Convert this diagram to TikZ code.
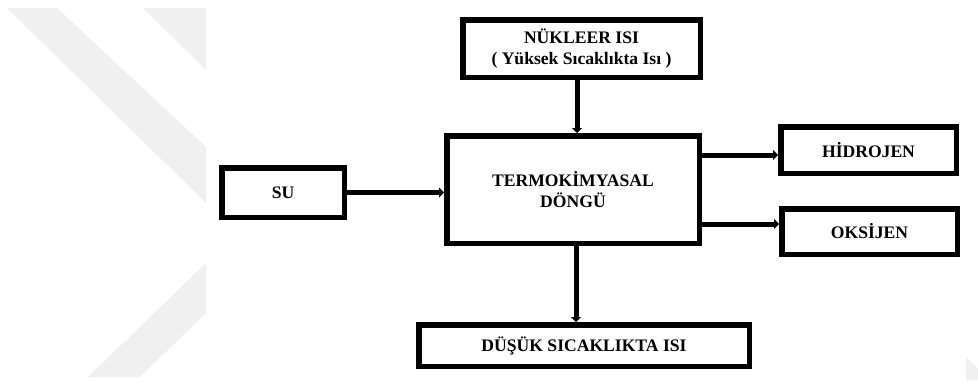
\documentclass[tikz,border=0pt]{standalone}
\usepackage{fontspec}
\setmainfont{Liberation Serif}
\usetikzlibrary{arrows.meta}
\begin{document}
\begin{tikzpicture}[x=1pt,y=-1pt,
  box/.style={draw=black, line width=5.5pt, fill=white, align=center, inner sep=0pt,
    font=\fontsize{17.6}{21}\selectfont\bfseries},
  arr/.style={draw=black, line width=5pt, -{Triangle[length=5pt,width=10pt]}},
  wm/.style={fill=black!6, draw=none}]
\useasboundingbox (0,0) rectangle (978,383);
% watermark
\fill[wm] (7,8) -- (57,8) -- (206,147) -- (206,203) -- cycle;
\fill[wm] (143,8) -- (206,8) -- (206,70) -- cycle;
\fill[wm] (206,263) -- (88,377) -- (140,377) -- (206,313) -- cycle;
\fill[wm] (966,357) -- (978,369) -- (978,380) -- (966,380) -- cycle;
% boxes
\node[box, minimum width=237.5pt, minimum height=57.5pt] (nuk) at (581.5,48.5)
  {NÜKLEER ISI\\( Yüksek Sıcaklıkta Isı )};
\node[box, minimum width=252.5pt, minimum height=107.5pt] (termo) at (573,189.5)
  {TERMOKİMYASAL\\DÖNGÜ};
\node[box, minimum width=122.5pt, minimum height=49.5pt] (su) at (283,192.5) {SU};
\node[box, minimum width=175.5pt, minimum height=46.5pt] (hid) at (868.5,150) {HİDROJEN};
\node[box, minimum width=175.5pt, minimum height=45.5pt] (oks) at (869.5,231.5) {OKSİJEN};
\node[box, minimum width=330.5pt, minimum height=41.5pt] (dus) at (584,345.5) {DÜŞÜK SICAKLIKTA ISI};
% connectors
\draw[arr] (su.east) -- (su.east -| termo.west);
\draw[arr] ([xshift=-4.5pt]nuk.south) -- ([xshift=-4.5pt]nuk.south |- termo.north);
\draw[arr] ([yshift=-5pt]termo.east |- hid.west) -- ([yshift=-5pt]hid.west);
\draw[arr] ([yshift=7.5pt]termo.east |- oks.west) -- ([yshift=7.5pt]oks.west);
\draw[arr] ([xshift=3pt]termo.south) -- ([xshift=3pt]termo.south |- dus.north);
\end{tikzpicture}
\end{document}
